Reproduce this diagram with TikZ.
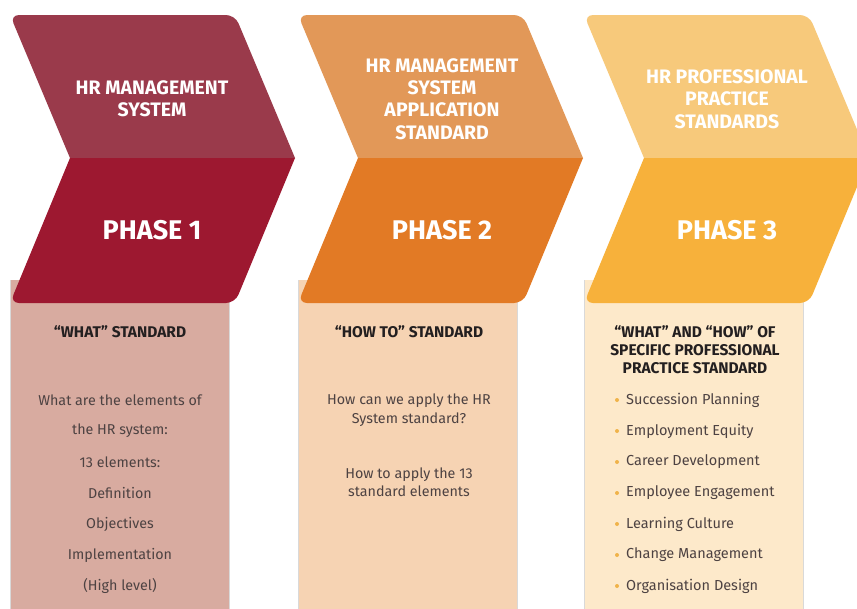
\documentclass[tikz,border=0pt]{standalone}
\usepackage{fontspec}
\setmainfont{Fira Sans}

\definecolor{redtop}{HTML}{9A3A4B}
\definecolor{redlow}{HTML}{9D1830}
\definecolor{redbody}{HTML}{D8ABA0}
\definecolor{orgtop}{HTML}{E29858}
\definecolor{orglow}{HTML}{E27A25}
\definecolor{orgbody}{HTML}{F6D3B3}
\definecolor{yeltop}{HTML}{F7C97B}
\definecolor{yellow}{HTML}{F7B13B}
\definecolor{yelbody}{HTML}{FDE9CA}
\definecolor{bodytext}{HTML}{4D4242}
\definecolor{titletext}{HTML}{231F20}
\definecolor{dot}{HTML}{F0B34A}

% one column: x offset, top colour, lower colour, body colour
\newcommand\phasecolumn[4]{%
  \fill[#4] (#1,280) rectangle (#1+219,620);
  \draw[black!15] (#1,280) -- (#1,620) (#1+219,280) -- (#1+219,620);
  \fill[#2] (#1+285,158) -- (#1+60,158) [rounded corners=9pt] -- (#1,15) -- (#1+225,15) [sharp corners] -- cycle;
  \fill[#3] (#1+60,158) -- (#1+285,158) [rounded corners=9pt] -- (#1+225,303) -- (#1,303) [sharp corners] -- cycle;
}

\begin{document}
\begin{tikzpicture}[x=1pt,y=-1pt,
    head/.style={text=white,align=center,font=\bfseries\fontsize{19.5}{22.3}\selectfont},
    phase/.style={text=white,font=\bfseries\fontsize{27}{30}\selectfont},
    title/.style={text=titletext,align=center,font=\bfseries\fontsize{15.5}{18}\selectfont},
    bodytxt/.style={text=bodytext,align=center,font=\fontsize{14.3}{18.5}\selectfont},
    item/.style={text=bodytext,anchor=west,inner xsep=0pt,font=\fontsize{14.5}{16}\selectfont}]
  \useasboundingbox (0,0) rectangle (857,608);
  \clip (0,0) rectangle (857,608);
  \fill[white] (0,0) rectangle (857,608);

  \phasecolumn{10}{redtop}{redlow}{redbody}
  \phasecolumn{298}{orgtop}{orglow}{orgbody}
  \phasecolumn{584}{yeltop}{yellow}{yelbody}

  % headings on the chevrons
  \node[head] (head1) at (152,99) {HR MANAGEMENT\\SYSTEM};
  \node[head] (head2) at (442,99) {HR MANAGEMENT\\SYSTEM\\APPLICATION\\STANDARD};
  \node[head] (head3) at (727,99) {HR PROFESSIONAL\\PRACTICE\\STANDARDS};
  \node[phase] (phase1) at (152,230) {PHASE 1};
  \node[phase] (phase2) at (442,230) {PHASE 2};
  \node[phase] (phase3) at (727,230) {PHASE 3};

  % phase 1
  \node[title] (what) at (120,332) {``WHAT'' STANDARD};
  \foreach \t [count=\i] in {What are the elements of, the HR system:, 13 elements:,
      Definition, Objectives, Implementation, (High level)}
    \node[bodytxt] (elem\i) at (120,400+31*\i-31) {\t};

  % phase 2
  \node[title] (howto) at (409,332) {``HOW TO'' STANDARD};
  \node[bodytxt] (apply) at (409,410) {How can we apply the HR\\System standard?};
  \node[bodytxt] (apply13) at (409,482) {How to apply the 13\\standard elements};

  % phase 3
  \node[title] (whathow) at (695,350) {``WHAT'' AND ``HOW'' OF\\SPECIFIC PROFESSIONAL\\PRACTICE STANDARD};
  \foreach \t [count=\i] in {Succession Planning, Employment Equity, Career Development,
      Employee Engagement, Learning Culture, Change Management, Organisation Design} {
    \fill[dot] (617,400+31*\i-31) circle (2pt);
    \node[item] (std\i) at (626,400+31*\i-31) {\t};
  }
\end{tikzpicture}
\end{document}
